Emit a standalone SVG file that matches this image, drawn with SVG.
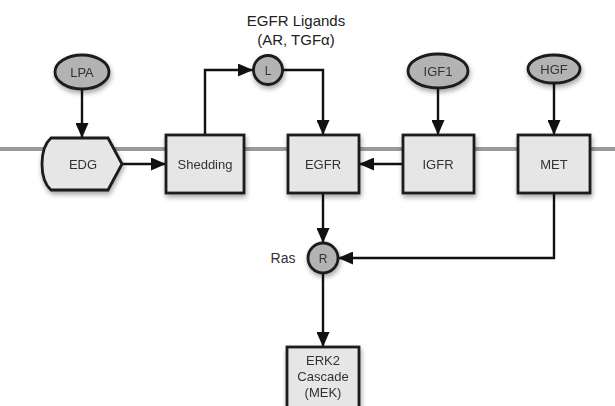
<svg xmlns="http://www.w3.org/2000/svg" width="615" height="406" viewBox="0 0 615 406">
<style>
.box{fill:#e6e6e6;stroke:#1a1a1a;stroke-width:2.8}
.ell{fill:#b3b3b3;stroke:#1a1a1a;stroke-width:2.8}
.lbl{font-family:"Liberation Sans",Arial,sans-serif;font-size:13px;fill:#333;text-anchor:middle}
.ttl{font-family:"Liberation Sans",Arial,sans-serif;font-size:15px;fill:#222;text-anchor:middle}
.con{fill:none;stroke:#111;stroke-width:2.4}
</style>
<defs>
<marker id="ah" viewBox="0 0 15 13" refX="15" refY="6.5" markerWidth="15" markerHeight="13" markerUnits="userSpaceOnUse" orient="auto">
<path d="M0,0 L15,6.5 L0,13 Z" fill="#111"/>
</marker>
<filter id="sh" x="-20%" y="-20%" width="150%" height="160%">
<feDropShadow dx="1" dy="3" stdDeviation="2.5" flood-color="#000" flood-opacity="0.35"/>
</filter>
</defs>
<rect width="615" height="406" fill="#fff"/>
<line x1="0" y1="149" x2="615" y2="149" stroke="#9a9a9a" stroke-width="4"/>
<g id="connectors">
<line class="con" x1="82" y1="89" x2="82" y2="138" marker-end="url(#ah)"/>
<line class="con" x1="122" y1="164" x2="166" y2="164" marker-end="url(#ah)"/>
<polyline class="con" points="205,135 205,70 253,70" marker-end="url(#ah)"/>
<polyline class="con" points="282,70 323,70 323,135" marker-end="url(#ah)"/>
<line class="con" x1="438" y1="88" x2="438" y2="135" marker-end="url(#ah)"/>
<line class="con" x1="554" y1="83" x2="554" y2="135" marker-end="url(#ah)"/>
<line class="con" x1="403" y1="164" x2="359" y2="164" marker-end="url(#ah)"/>
<line class="con" x1="323" y1="193" x2="323" y2="243" marker-end="url(#ah)"/>
<polyline class="con" points="554,193 554,258 338,258" marker-end="url(#ah)"/>
<line class="con" x1="323" y1="273" x2="323" y2="347" marker-end="url(#ah)"/>
</g>
<g id="title">
<text class="ttl" x="296" y="26">EGFR Ligands</text>
<text class="ttl" x="296" y="45">(AR, TGFα)</text>
</g>
<g id="LPA" filter="url(#sh)">
<ellipse class="ell" cx="82" cy="72" rx="27" ry="17"/>
<text class="lbl" x="82" y="77">LPA</text>
</g>
<g id="EDG" filter="url(#sh)">
<path class="box" d="M51,138 L108,138 L122,164 L108,190 L51,190 Q42,182 42,164 Q42,146 51,138 Z"/>
<text class="lbl" x="83" y="169">EDG</text>
</g>
<g id="Shedding" filter="url(#sh)">
<rect class="box" x="166" y="135" width="78" height="58"/>
<text class="lbl" x="205" y="169">Shedding</text>
</g>
<g id="L" filter="url(#sh)">
<circle class="ell" cx="268" cy="70" r="14.5"/>
<text class="lbl" x="268" y="75" style="font-size:12px">L</text>
</g>
<g id="EGFR" filter="url(#sh)">
<rect class="box" x="288" y="135" width="71" height="58"/>
<text class="lbl" x="323" y="169">EGFR</text>
</g>
<g id="IGF1" filter="url(#sh)">
<ellipse class="ell" cx="438" cy="71" rx="30" ry="17"/>
<text class="lbl" x="438" y="76">IGF1</text>
</g>
<g id="IGFR" filter="url(#sh)">
<rect class="box" x="403" y="135" width="71" height="58"/>
<text class="lbl" x="438" y="169">IGFR</text>
</g>
<g id="HGF" filter="url(#sh)">
<ellipse class="ell" cx="554" cy="69" rx="26" ry="14"/>
<text class="lbl" x="554" y="74">HGF</text>
</g>
<g id="MET" filter="url(#sh)">
<rect class="box" x="518" y="135" width="72" height="58"/>
<text class="lbl" x="554" y="169">MET</text>
</g>
<g id="R" filter="url(#sh)">
<circle class="ell" cx="323" cy="258" r="15"/>
<text class="lbl" x="323" y="263" style="font-size:12px">R</text>
</g>
<g id="Ras">
<text class="lbl" x="283" y="263" style="font-size:14px">Ras</text>
</g>
<g id="ERK2" filter="url(#sh)">
<rect class="box" x="287" y="347" width="72" height="70"/>
<text class="lbl" x="323" y="365">ERK2</text>
<text class="lbl" x="323" y="381">Cascade</text>
<text class="lbl" x="323" y="397">(MEK)</text>
</g>
</svg>
